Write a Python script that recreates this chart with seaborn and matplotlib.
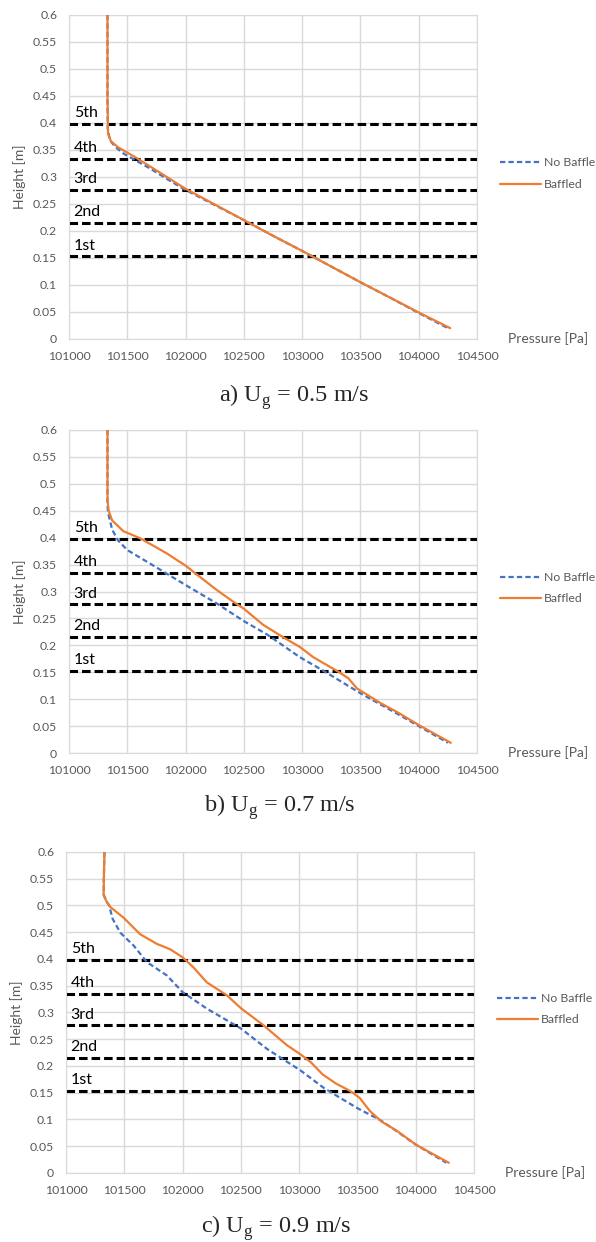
import numpy as np
import pandas as pd
import seaborn as sns
import matplotlib.pyplot as plt

# ---- data ----
# a) Ug = 0.5 m/s
a_nb_p = [101330, 101330, 101332, 101350, 101400, 101470, 101560, 101700, 101850, 101990,
          102250, 102500, 102750, 103000, 103250, 103500, 103750, 104000, 104250]
a_nb_h = [0.6, 0.45, 0.39, 0.368, 0.355, 0.343, 0.332, 0.315, 0.295, 0.277,
          0.248, 0.220, 0.191, 0.163, 0.134, 0.105, 0.077, 0.048, 0.02]
a_bf_p = [101330, 101330, 101335, 101360, 101420, 101500, 101580, 101750, 102000, 102250,
          102500, 102750, 103000, 103250, 103500, 103750, 104000, 104270]
a_bf_h = [0.6, 0.45, 0.38, 0.366, 0.355, 0.345, 0.335, 0.312, 0.278, 0.249,
          0.220, 0.191, 0.163, 0.134, 0.105, 0.077, 0.049, 0.02]

# b) Ug = 0.7 m/s
b_nb_p = [101330, 101330, 101335, 101370, 101420, 101500, 101694, 102000, 102266, 102500,
          102700, 102980, 103180, 103500, 103815, 104000, 104250]
b_nb_h = [0.6, 0.46, 0.446, 0.415, 0.395, 0.377, 0.352, 0.312, 0.278, 0.245,
          0.220, 0.178, 0.153, 0.111, 0.073, 0.050, 0.019]
b_bf_p = [101330, 101330, 101340, 101370, 101466, 101609, 101837, 102000, 102094, 102266,
          102409, 102500, 102666, 102830, 102980, 103095, 103310, 103395, 103470, 103670,
          103815, 104000, 104275]
b_bf_h = [0.6, 0.47, 0.45, 0.432, 0.412, 0.399, 0.371, 0.348, 0.332, 0.303,
          0.281, 0.268, 0.238, 0.216, 0.197, 0.178, 0.151, 0.139, 0.120, 0.093,
          0.076, 0.052, 0.019]

# c) Ug = 0.9 m/s
c_nb_p = [101330, 101325, 101323, 101346, 101370, 101400, 101466, 101580, 101694, 101866,
          102000, 102209, 102500, 102723, 102894, 103009, 103217, 103500, 103694, 103837,
          104000, 104263]
c_nb_h = [0.6, 0.55, 0.52, 0.508, 0.5, 0.475, 0.449, 0.425, 0.394, 0.369,
          0.338, 0.307, 0.270, 0.232, 0.208, 0.192, 0.158, 0.121, 0.099, 0.078,
          0.053, 0.019]
c_bf_p = [101330, 101325, 101323, 101346, 101380, 101494, 101637, 101780, 101894, 102000,
          102094, 102209, 102380, 102500, 102694, 102894, 103009, 103100, 103202, 103317,
          103447, 103520, 103606, 103707, 103837, 104000, 104284]
c_bf_h = [0.6, 0.55, 0.52, 0.508, 0.497, 0.477, 0.446, 0.428, 0.418, 0.403,
          0.384, 0.356, 0.332, 0.308, 0.276, 0.239, 0.222, 0.207, 0.184, 0.167,
          0.152, 0.140, 0.116, 0.096, 0.079, 0.053, 0.019]

baffle_heights = [0.153, 0.215, 0.276, 0.334, 0.398]
baffle_names = ["1st", "2nd", "3rd", "4th", "5th"]
captions = ["a) U$_\\mathregular{g}$ = 0.5 m/s",
            "b) U$_\\mathregular{g}$ = 0.7 m/s",
            "c) U$_\\mathregular{g}$ = 0.9 m/s"]
x_ticks = np.arange(101000, 104501, 500)
y_ticks = np.arange(0, 0.601, 0.05)

panels = [(a_nb_p, a_nb_h, a_bf_p, a_bf_h),
          (b_nb_p, b_nb_h, b_bf_p, b_bf_h),
          (c_nb_p, c_nb_h, c_bf_p, c_bf_h)]

# axes boxes in figure fraction [left, bottom, width, height]
boxes = [[0.1158, 0.7271, 0.6846, 0.2609],
         [0.1158, 0.3937, 0.6846, 0.2601],
         [0.1107, 0.0556, 0.6846, 0.2585]]
caption_xy = [(0.493, 0.6763), (0.470, 0.3462), (0.463, 0.0075)]

sns.set_style("white")
plt.rcParams["font.family"] = ["Lato", "DejaVu Sans"]
grey = "#595959"
palette = {"No Baffle": "#4472C4", "Baffled": "#ED7D31"}

fig = plt.figure(figsize=(5.96, 12.42), dpi=100)

for i, (nb_p, nb_h, bf_p, bf_h) in enumerate(panels):
    ax = fig.add_axes(boxes[i])
    df = pd.concat([
        pd.DataFrame({"p": nb_p, "h": nb_h, "case": "No Baffle"}),
        pd.DataFrame({"p": bf_p, "h": bf_h, "case": "Baffled"}),
    ])
    sns.lineplot(data=df, x="p", y="h", hue="case", style="case",
                 hue_order=["No Baffle", "Baffled"], style_order=["No Baffle", "Baffled"],
                 palette=palette, dashes={"No Baffle": (2.4, 1.4), "Baffled": ""},
                 sort=False, estimator=None, linewidth=1.6, ax=ax, zorder=3)

    for h, name in zip(baffle_heights, baffle_names):
        ax.axhline(h, color="black", lw=2.2, dashes=(2.8, 1.3), zorder=2)
        ax.text(101040, h + 0.007, name, fontsize=11.5, color="black", va="bottom")

    ax.set_xlim(101000, 104500)
    ax.set_ylim(0, 0.6)
    ax.set_xticks(x_ticks)
    ax.set_yticks(y_ticks)
    ax.set_xticklabels([f"{v:d}" for v in x_ticks])
    ax.set_yticklabels([f"{v:g}" for v in np.round(y_ticks, 2)])
    ax.tick_params(length=0, labelsize=8.8, colors=grey, pad=8.5)
    ax.grid(True, color="#d9d9d9", lw=1)
    for s in ax.spines.values():
        s.set_color("#d9d9d9")
    ax.set_xlabel("")
    ax.set_ylabel("Height [m]", color=grey, fontsize=10, labelpad=5)
    ax.text(1.075, 0.0, "Pressure [Pa]", transform=ax.transAxes, color=grey,
            fontsize=10, ha="left", va="center")

    sns.move_legend(ax, "center left", bbox_to_anchor=(1.045, 0.51), frameon=False,
                    borderaxespad=0, title=None, fontsize=8.8, handlelength=3.3,
                    handletextpad=0.3, labelspacing=0.85, labelcolor=grey)

    fig.text(caption_xy[i][0], caption_xy[i][1], captions[i], ha="center", va="baseline",
             fontsize=17.5, family=["Liberation Serif"])

fig.savefig("out.png", dpi=100)
